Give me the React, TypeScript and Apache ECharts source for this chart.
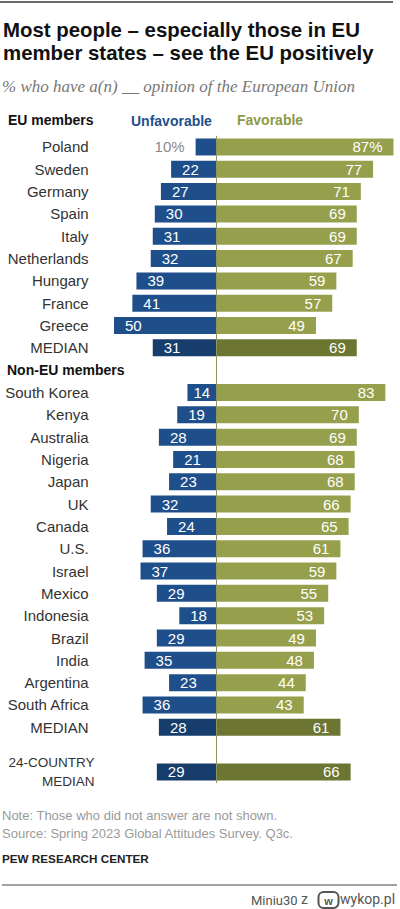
import React, { useEffect, useRef } from "react";
import * as echarts from "echarts";

const euCountries = ["Poland", "Sweden", "Germany", "Spain", "Italy", "Netherlands", "Hungary", "France", "Greece"];
const euUnfavorable = [10, 22, 27, 30, 31, 32, 39, 41, 50];
const euFavorable = [87, 77, 71, 69, 69, 67, 59, 57, 49];
const euMedian = [31, 69];

const nonEuCountries = ["South Korea", "Kenya", "Australia", "Nigeria", "Japan", "UK", "Canada", "U.S.", "Israel", "Mexico", "Indonesia", "Brazil", "India", "Argentina", "South Africa"];
const nonEuUnfavorable = [14, 19, 28, 21, 23, 32, 24, 36, 37, 29, 18, 29, 35, 23, 36];
const nonEuFavorable = [83, 70, 69, 68, 68, 66, 65, 61, 59, 55, 53, 49, 48, 44, 43];
const nonEuMedian = [28, 61];

const allMedian = [29, 66];

const FONT = "'Liberation Sans', Arial, sans-serif";
const BLUE = "#1f4f8b";
const BLUE_DARK = "#173d6c";
const OLIVE = "#969f4b";
const OLIVE_DARK = "#6c7532";

type Row = { label: string; unf: number | null; fav: number | null; kind: "country" | "median" | "blank" | "total" };

function buildRows(): Row[] {
  const rows: Row[] = [];
  euCountries.forEach((c, i) => rows.push({ label: c, unf: euUnfavorable[i], fav: euFavorable[i], kind: "country" }));
  rows.push({ label: "MEDIAN", unf: euMedian[0], fav: euMedian[1], kind: "median" });
  rows.push({ label: "", unf: null, fav: null, kind: "blank" });
  nonEuCountries.forEach((c, i) => rows.push({ label: c, unf: nonEuUnfavorable[i], fav: nonEuFavorable[i], kind: "country" }));
  rows.push({ label: "MEDIAN", unf: nonEuMedian[0], fav: nonEuMedian[1], kind: "median" });
  rows.push({ label: "", unf: null, fav: null, kind: "blank" });
  rows.push({ label: "24-COUNTRY\nMEDIAN", unf: allMedian[0], fav: allMedian[1], kind: "total" });
  return rows;
}

export default function App() {
  const ref = useRef<HTMLDivElement>(null);

  useEffect(() => {
    if (!ref.current) return;
    const chart = echarts.init(ref.current, null, { renderer: "svg" });
    const rows = buildRows();
    const headerIndex = rows.findIndex((r) => r.kind === "blank");
    const isMedian = (r: Row) => r.kind === "median" || r.kind === "total";

    const unfData = rows.map((r, i) => {
      if (r.unf == null) return { value: "-" as any };
      const first = i === 0;
      return {
        value: -r.unf,
        itemStyle: { color: isMedian(r) ? BLUE_DARK : BLUE },
        label: first
          ? { position: "left", distance: 11, color: "#8a8a8a" }
          : r.unf < 16
          ? { position: "inside" }
          : { position: "insideLeft", distance: 11 },
      };
    });
    const favData = rows.map((r) => {
      if (r.fav == null) return { value: "-" as any };
      return {
        value: r.fav,
        itemStyle: { color: isMedian(r) ? OLIVE_DARK : OLIVE },
      };
    });

    const labelBase = { show: true, color: "#ffffff", fontSize: 15, fontFamily: FONT };

    const categoryData = rows.map((r) =>
      r.kind === "total"
        ? { value: r.label, textStyle: { fontSize: 13.5, lineHeight: 19, padding: [0, -6, 0, 0] } }
        : r.label
    );

    const option: any = {
      animation: false,
      grid: { left: 93.6, right: 0.4, top: 135.8, height: 647.3, containLabel: false, outerBoundsMode: "none" },
      xAxis: { type: "value", min: -60, max: 90, show: false },
      yAxis: {
        type: "category",
        inverse: true,
        data: categoryData,
        axisLine: { show: false },
        axisTick: { show: false },
        splitLine: { show: false },
        axisLabel: { color: "#333333", fontSize: 15, fontFamily: FONT, margin: 5, lineHeight: 19, align: "right" },
      },
      series: [
        {
          name: "Unfavorable",
          type: "bar",
          stack: "total",
          barWidth: 17,
          data: unfData,
          label: {
            ...labelBase,
            formatter: (p: any) => (p.dataIndex === 0 ? Math.abs(p.value) + "%" : String(Math.abs(p.value))),
          },
          markLine: {
            silent: true,
            symbol: "none",
            label: { show: false },
            lineStyle: { color: "#8f9460", width: 1, type: "solid" },
            data: [{ xAxis: 0 }],
          },
        },
        {
          name: "Favorable",
          type: "bar",
          stack: "total",
          barWidth: 17,
          data: favData,
          label: {
            ...labelBase,
            position: "insideRight",
            distance: 11,
            formatter: (p: any) => (p.dataIndex === 0 ? p.value + "%" : String(p.value)),
          },
        },
      ],
    };
    chart.setOption(option);

    const headerY = chart.convertToPixel({ yAxisIndex: 0 }, headerIndex) as number;

    const graphic: any[] = [
      { type: "line", shape: { x1: 0, y1: 2, x2: 393, y2: 2 }, style: { stroke: "#6b6b6b", lineWidth: 2 } },
      {
        type: "text",
        x: 3,
        y: 18,
        style: {
          text: "Most people – especially those in EU\nmember states – see the EU positively",
          font: `bold 20.4px ${FONT}`,
          fill: "#111111",
          lineHeight: 23.5,
          verticalAlign: "top",
        },
      },
      {
        type: "text",
        x: 2,
        y: 86,
        style: {
          text: "% who have a(n) __ opinion of the European Union",
          font: `italic 17px 'Liberation Serif', serif`,
          fill: "#777777",
          verticalAlign: "middle",
        },
      },
      { type: "text", x: 8, y: 120, style: { text: "EU members", font: `bold 14px ${FONT}`, fill: "#111111", verticalAlign: "middle" } },
      { type: "text", x: 131, y: 121, style: { text: "Unfavorable", font: `bold 14px ${FONT}`, fill: BLUE, verticalAlign: "middle" } },
      { type: "text", x: 237, y: 120, style: { text: "Favorable", font: `bold 14px ${FONT}`, fill: "#8c9a46", verticalAlign: "middle" } },
      { type: "text", x: 7, y: headerY, style: { text: "Non-EU members", font: `bold 14px ${FONT}`, fill: "#111111", verticalAlign: "middle" } },
      {
        type: "text",
        x: 2,
        y: 815,
        style: { text: "Note: Those who did not answer are not shown.", font: `13px ${FONT}`, fill: "#9a9a9a", verticalAlign: "middle" },
      },
      {
        type: "text",
        x: 2,
        y: 833,
        style: { text: "Source: Spring 2023 Global Attitudes Survey. Q3c.", font: `13px ${FONT}`, fill: "#9a9a9a", verticalAlign: "middle" },
      },
      {
        type: "text",
        x: 2,
        y: 858,
        style: { text: "PEW RESEARCH CENTER", font: `bold 11.7px ${FONT}`, fill: "#222222", verticalAlign: "middle" },
      },
      { type: "line", shape: { x1: 2, y1: 885, x2: 397, y2: 885 }, style: { stroke: "#444444", lineWidth: 1 } },
      {
        type: "text",
        x: 251,
        y: 900,
        style: { text: "Miniu30", font: `13px Roboto, sans-serif`, fill: "#555555", verticalAlign: "middle" },
      },
      {
        type: "text",
        x: 301,
        y: 899,
        style: { text: "z", font: `14px Roboto, sans-serif`, fill: "#555555", verticalAlign: "middle" },
      },
      {
        type: "rect",
        shape: { x: 318.5, y: 892, width: 20, height: 16, r: 5 },
        style: { fill: "none", stroke: "#555555", lineWidth: 2 },
      },
      {
        type: "text",
        x: 328.5,
        y: 900.5,
        style: { text: "w", font: `bold 11px ${FONT}`, fill: "#555555", align: "center", verticalAlign: "middle" },
      },
      {
        type: "text",
        x: 340,
        y: 899,
        style: { text: "wykop.pl", font: `14px Roboto, sans-serif`, fill: "#555555", verticalAlign: "middle" },
      },
    ];
    chart.setOption({ graphic });

    return () => chart.dispose();
  }, []);

  return <div ref={ref} style={{ position: "absolute", left: 0, top: 0, width: 400, height: 909, background: "#ffffff" }} />;
}
